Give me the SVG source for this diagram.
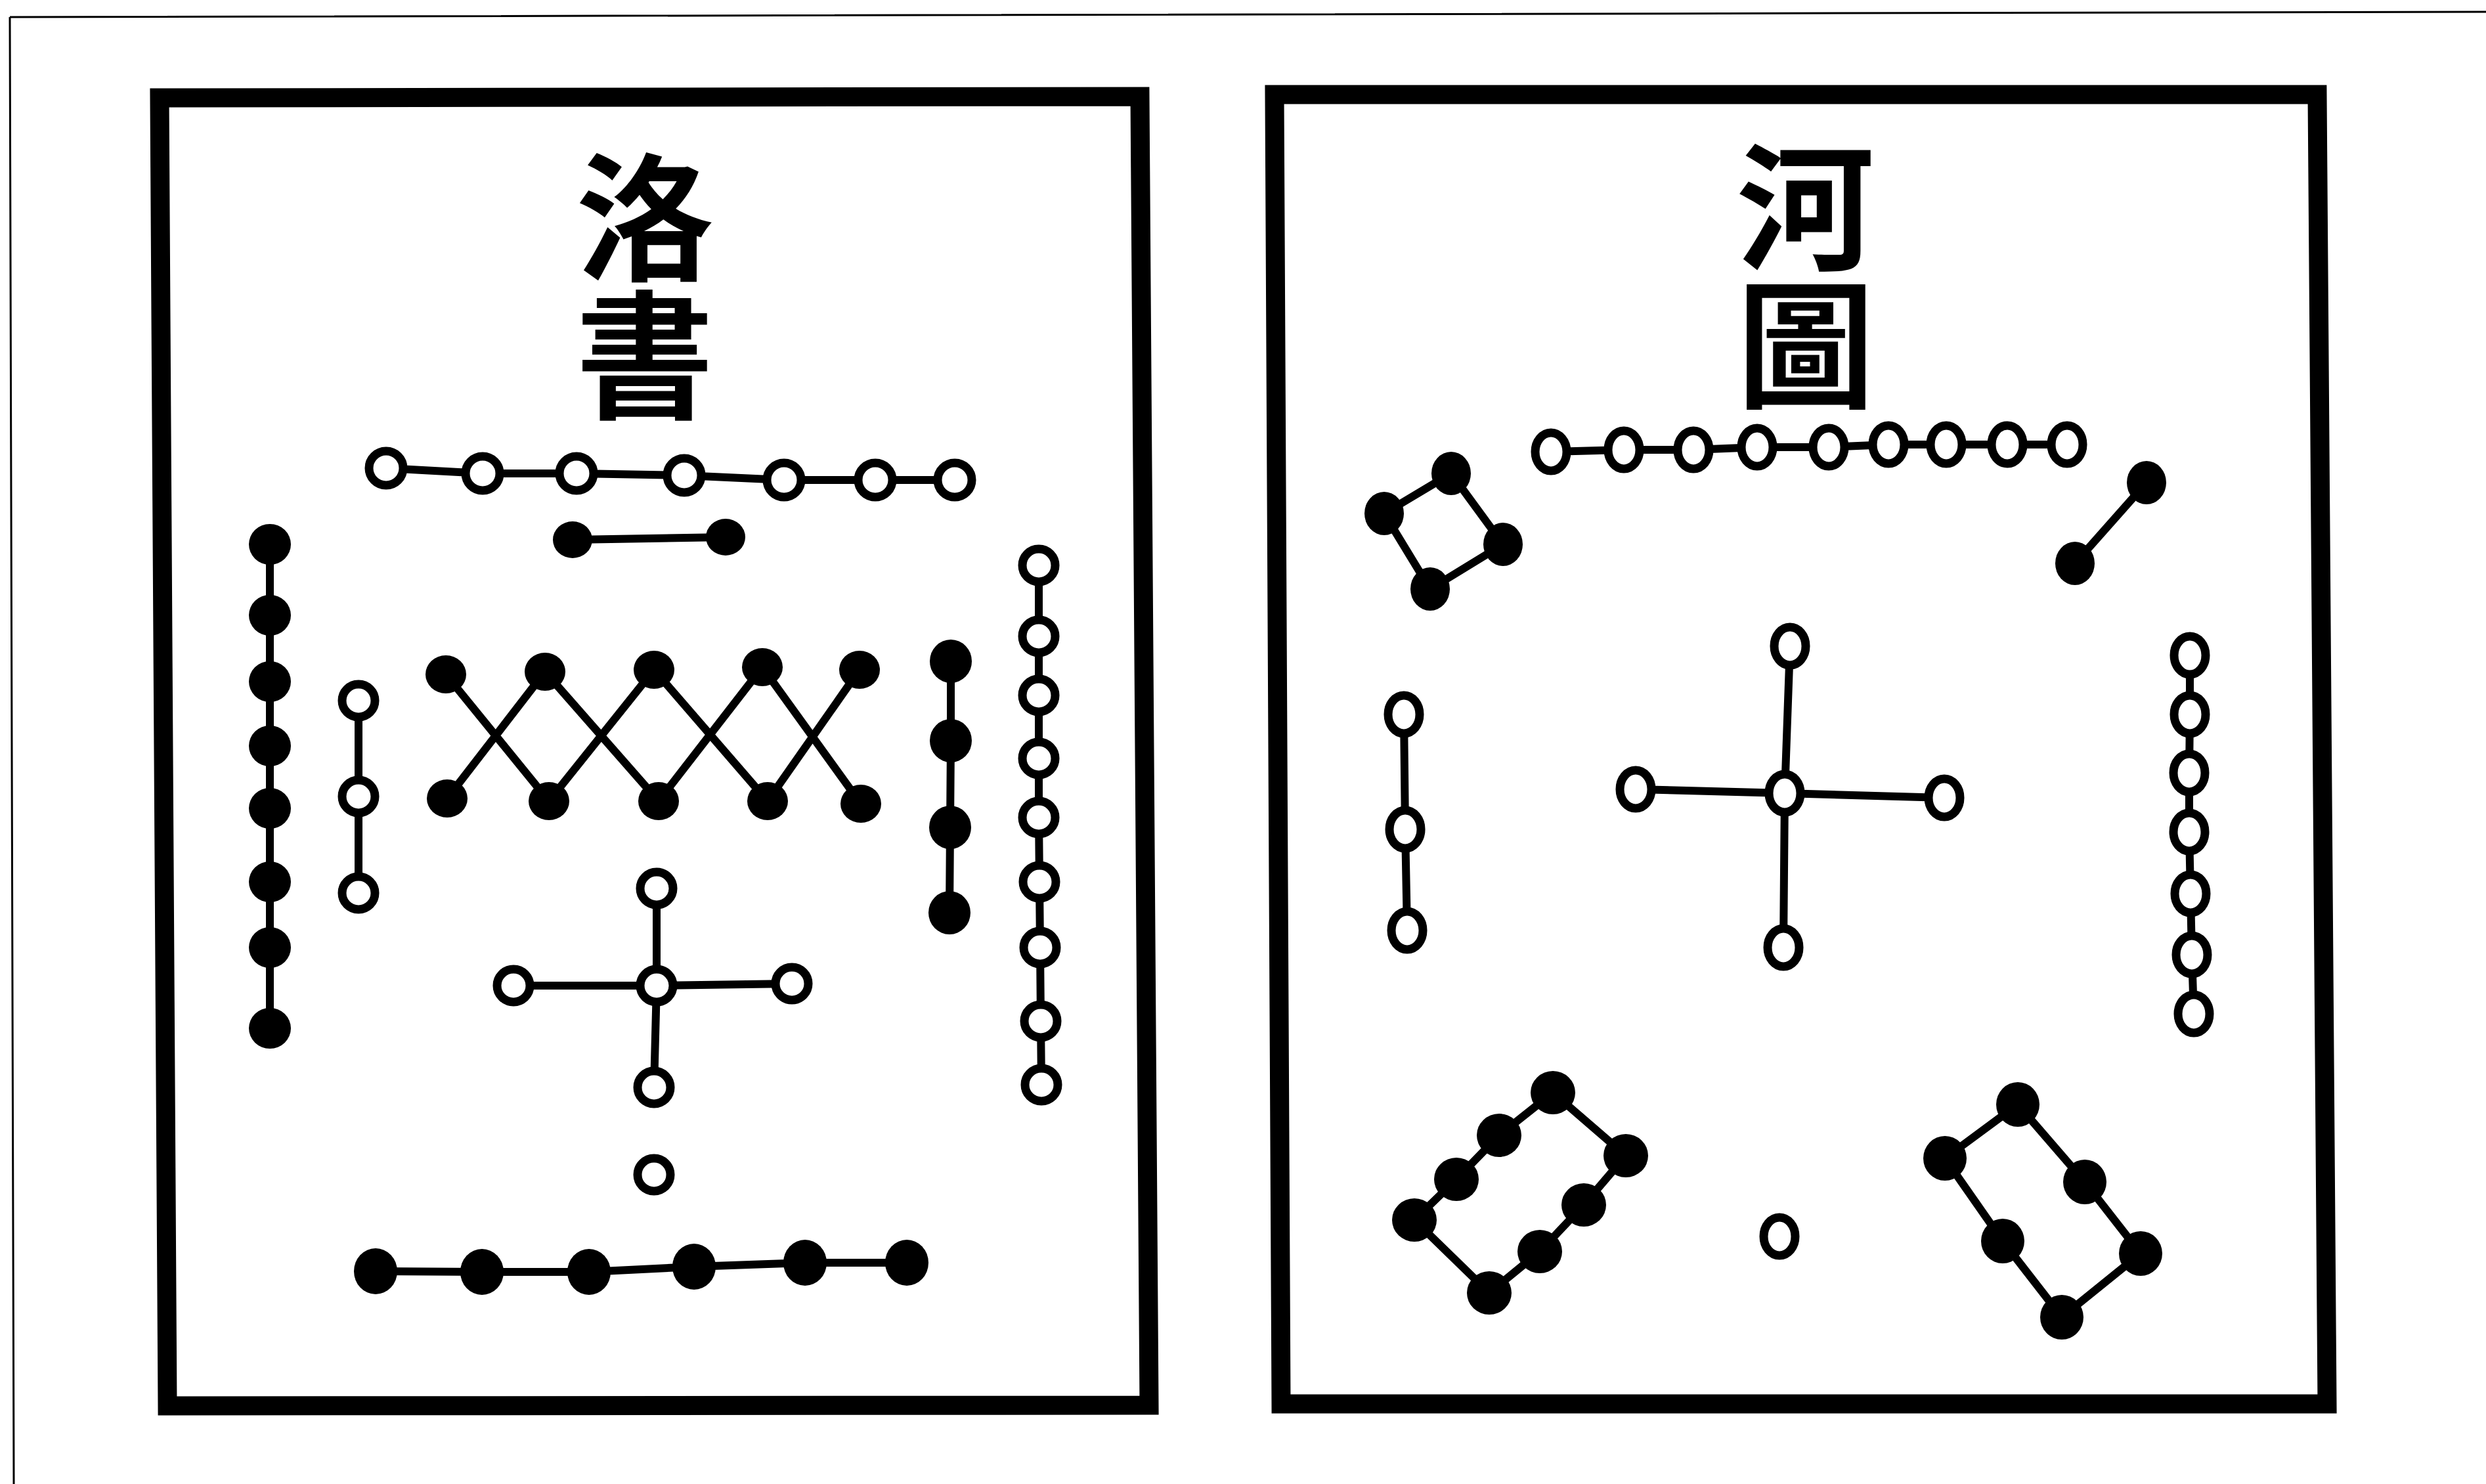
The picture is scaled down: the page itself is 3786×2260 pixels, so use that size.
<svg xmlns="http://www.w3.org/2000/svg" width="3786" height="2260" viewBox="0 0 3786 2260">
<style>
.o{fill:#fff;stroke:#000;stroke-width:13}
.f{fill:#000}
.ln{stroke:#000;stroke-width:12;stroke-linecap:round;fill:none}
.frame{fill:none;stroke:#000;stroke-width:29;stroke-linejoin:miter}
.thin{stroke:#000;stroke-width:3;fill:none}
.t{font-family:"Noto Sans CJK TC","Noto Sans CJK JP","Noto Sans CJK SC",sans-serif;font-weight:bold;font-size:210px;text-anchor:middle;fill:#000;writing-mode:vertical-rl;glyph-orientation-vertical:0}
</style>
<rect width="3786" height="2260" fill="#fff"/>
<g id="page-border">
<path class="thin" d="M15 26 L3786 18 M15 26 L21 2260"/>
</g>
<g id="frame-luoshu"><path class="frame" d="M243 149 L1736 147 L1750 2140 L255 2141 Z"/></g>
<g id="frame-hetu"><path class="frame" d="M1941 144 L3529 144 L3544 2138 L1951 2138 Z"/></g>
<g id="title-luoshu">
<text class="t" x="982" y="436">洛書</text>
</g>
<g id="title-hetu">
<text class="t" x="2750" y="420">河圖</text>
</g>
<g id="connectors">
<!-- Luoshu -->
<polyline class="ln" points="588,713 735,721 878,721 1042,724 1194,731 1333,731 1454,731"/>
<line class="ln" x1="872" y1="822" x2="1105" y2="818"/>
<polyline class="ln" points="411,829 411,937 411,1038 411,1136 411,1231 411,1343 411,1443 411,1566"/>
<polyline class="ln" points="546,1067 546,1213 546,1360"/>
<path class="ln" d="M679 1027 L836 1220 M681 1216 L830 1023 M830 1023 L1003 1220 M836 1220 L996 1020 M996 1020 L1169 1220 M1003 1220 L1161 1016 M1161 1016 L1311 1224 M1169 1220 L1309 1020"/>
<polyline class="ln" points="1448,1007 1448,1128 1447,1260 1446,1390"/>
<polyline class="ln" points="1582,861 1582,969 1582,1059 1582,1155 1582,1245 1583,1343 1584,1443 1585,1555 1586,1652"/>
<path class="ln" d="M1000 1353 L1000 1501 L996 1656 M782 1501 L1000 1501 L1206 1498"/>
<polyline class="ln" points="572,1936 734,1937 897,1937 1057,1929 1226,1923 1381,1923"/>
<!-- Hetu -->
<polyline class="ln" points="2362,688 2473,685 2579,685 2676,681 2785,681 2876,677 2964,677 3057,677 3148,677"/>
<path class="ln" d="M2210 721 L2108 782 L2178 897 L2289 829 Z"/>
<line class="ln" x1="3269" y1="735" x2="3160" y2="858"/>
<polyline class="ln" points="2138,1088 2140,1263 2143,1417"/>
<path class="ln" d="M2726 984 L2718 1208 L2716 1443 M2491 1202 L2718 1208 L2961 1215"/>
<polyline class="ln" points="3335,998 3335,1088 3334,1177 3334,1267 3336,1361 3338,1454 3341,1544"/>
<path class="ln" d="M2365 1664 L2283 1729 L2218 1796 L2154 1858 L2268 1969 L2345 1906 L2412 1835 L2476 1760 Z"/>
<path class="ln" d="M3073 1682 L2962 1764 L3050 1890 L3140 2006 L3260 1909 L3175 1800 Z"/>
</g>
<g id="luoshu-top-seven">
<circle class="o" cx="588" cy="713" r="26"/><circle class="o" cx="735" cy="721" r="26"/><circle class="o" cx="878" cy="721" r="26"/><circle class="o" cx="1042" cy="724" r="26"/><circle class="o" cx="1194" cy="731" r="26"/><circle class="o" cx="1333" cy="731" r="26"/><circle class="o" cx="1454" cy="731" r="26"/>
</g>
<g id="luoshu-two">
<ellipse class="f" cx="872" cy="822" rx="30" ry="28"/><ellipse class="f" cx="1105" cy="818" rx="30" ry="28"/>
</g>
<g id="luoshu-left-eight">
<ellipse class="f" cx="411" cy="829" rx="32" ry="31"/><ellipse class="f" cx="411" cy="937" rx="32" ry="31"/><ellipse class="f" cx="411" cy="1038" rx="32" ry="31"/><ellipse class="f" cx="411" cy="1136" rx="32" ry="31"/><ellipse class="f" cx="411" cy="1231" rx="32" ry="31"/><ellipse class="f" cx="411" cy="1343" rx="32" ry="31"/><ellipse class="f" cx="411" cy="1443" rx="32" ry="31"/><ellipse class="f" cx="411" cy="1566" rx="32" ry="31"/>
</g>
<g id="luoshu-left-three">
<circle class="o" cx="546" cy="1067" r="25"/><circle class="o" cx="546" cy="1213" r="25"/><circle class="o" cx="546" cy="1360" r="25"/>
</g>
<g id="luoshu-zigzag-ten">
<ellipse class="f" cx="679" cy="1027" rx="31" ry="29"/><ellipse class="f" cx="830" cy="1023" rx="31" ry="29"/><ellipse class="f" cx="996" cy="1020" rx="31" ry="29"/><ellipse class="f" cx="1161" cy="1016" rx="31" ry="29"/><ellipse class="f" cx="1309" cy="1020" rx="31" ry="29"/>
<ellipse class="f" cx="681" cy="1216" rx="31" ry="29"/><ellipse class="f" cx="836" cy="1220" rx="31" ry="29"/><ellipse class="f" cx="1003" cy="1220" rx="31" ry="29"/><ellipse class="f" cx="1169" cy="1220" rx="31" ry="29"/><ellipse class="f" cx="1311" cy="1224" rx="31" ry="29"/>
</g>
<g id="luoshu-right-four">
<ellipse class="f" cx="1448" cy="1007" rx="32" ry="33"/><ellipse class="f" cx="1448" cy="1128" rx="32" ry="33"/><ellipse class="f" cx="1447" cy="1260" rx="32" ry="33"/><ellipse class="f" cx="1446" cy="1390" rx="32" ry="33"/>
</g>
<g id="luoshu-right-nine">
<circle class="o" cx="1582" cy="861" r="25"/><circle class="o" cx="1582" cy="969" r="25"/><circle class="o" cx="1582" cy="1059" r="25"/><circle class="o" cx="1582" cy="1155" r="25"/><circle class="o" cx="1582" cy="1245" r="25"/><circle class="o" cx="1583" cy="1343" r="25"/><circle class="o" cx="1584" cy="1443" r="25"/><circle class="o" cx="1585" cy="1555" r="25"/><circle class="o" cx="1586" cy="1652" r="25"/>
</g>
<g id="luoshu-center-five">
<circle class="o" cx="1000" cy="1353" r="25"/><circle class="o" cx="1000" cy="1501" r="25"/><circle class="o" cx="996" cy="1656" r="25"/><circle class="o" cx="782" cy="1501" r="25"/><circle class="o" cx="1206" cy="1498" r="25"/>
</g>
<g id="luoshu-one">
<circle class="o" cx="996" cy="1789" r="25"/>
</g>
<g id="luoshu-bottom-six">
<ellipse class="f" cx="572" cy="1936" rx="33" ry="35"/><ellipse class="f" cx="734" cy="1937" rx="33" ry="35"/><ellipse class="f" cx="897" cy="1937" rx="33" ry="35"/><ellipse class="f" cx="1057" cy="1929" rx="33" ry="35"/><ellipse class="f" cx="1226" cy="1923" rx="33" ry="35"/><ellipse class="f" cx="1381" cy="1923" rx="33" ry="35"/>
</g>
<g id="hetu-top-nine">
<ellipse class="o" cx="2362" cy="688" rx="24" ry="29"/><ellipse class="o" cx="2473" cy="685" rx="24" ry="29"/><ellipse class="o" cx="2579" cy="685" rx="24" ry="29"/><ellipse class="o" cx="2676" cy="681" rx="24" ry="29"/><ellipse class="o" cx="2785" cy="681" rx="24" ry="29"/><ellipse class="o" cx="2876" cy="677" rx="24" ry="29"/><ellipse class="o" cx="2964" cy="677" rx="24" ry="29"/><ellipse class="o" cx="3057" cy="677" rx="24" ry="29"/><ellipse class="o" cx="3148" cy="677" rx="24" ry="29"/>
</g>
<g id="hetu-topleft-four">
<ellipse class="f" cx="2210" cy="721" rx="30" ry="33"/><ellipse class="f" cx="2108" cy="782" rx="30" ry="33"/><ellipse class="f" cx="2289" cy="829" rx="30" ry="33"/><ellipse class="f" cx="2178" cy="897" rx="30" ry="33"/>
</g>
<g id="hetu-topright-two">
<ellipse class="f" cx="3269" cy="735" rx="30" ry="33"/><ellipse class="f" cx="3160" cy="858" rx="30" ry="33"/>
</g>
<g id="hetu-left-three">
<ellipse class="o" cx="2138" cy="1088" rx="24" ry="29"/><ellipse class="o" cx="2140" cy="1263" rx="24" ry="29"/><ellipse class="o" cx="2143" cy="1417" rx="24" ry="29"/>
</g>
<g id="hetu-center-five">
<ellipse class="o" cx="2726" cy="984" rx="24" ry="29"/><ellipse class="o" cx="2718" cy="1208" rx="24" ry="29"/><ellipse class="o" cx="2491" cy="1202" rx="24" ry="29"/><ellipse class="o" cx="2961" cy="1215" rx="24" ry="29"/><ellipse class="o" cx="2716" cy="1443" rx="24" ry="29"/>
</g>
<g id="hetu-right-seven">
<ellipse class="o" cx="3335" cy="998" rx="24" ry="29"/><ellipse class="o" cx="3335" cy="1088" rx="24" ry="29"/><ellipse class="o" cx="3334" cy="1177" rx="24" ry="29"/><ellipse class="o" cx="3334" cy="1267" rx="24" ry="29"/><ellipse class="o" cx="3336" cy="1361" rx="24" ry="29"/><ellipse class="o" cx="3338" cy="1454" rx="24" ry="29"/><ellipse class="o" cx="3341" cy="1544" rx="24" ry="29"/>
</g>
<g id="hetu-bottomleft-eight">
<ellipse class="f" cx="2365" cy="1664" rx="34" ry="33"/><ellipse class="f" cx="2283" cy="1729" rx="34" ry="33"/><ellipse class="f" cx="2218" cy="1796" rx="34" ry="33"/><ellipse class="f" cx="2154" cy="1858" rx="34" ry="33"/><ellipse class="f" cx="2268" cy="1969" rx="34" ry="33"/><ellipse class="f" cx="2345" cy="1906" rx="34" ry="33"/><ellipse class="f" cx="2412" cy="1835" rx="34" ry="33"/><ellipse class="f" cx="2476" cy="1760" rx="34" ry="33"/>
</g>
<g id="hetu-bottomright-six">
<ellipse class="f" cx="3073" cy="1682" rx="33" ry="34"/><ellipse class="f" cx="2962" cy="1764" rx="33" ry="34"/><ellipse class="f" cx="3175" cy="1800" rx="33" ry="34"/><ellipse class="f" cx="3050" cy="1890" rx="33" ry="34"/><ellipse class="f" cx="3260" cy="1909" rx="33" ry="34"/><ellipse class="f" cx="3140" cy="2006" rx="33" ry="34"/>
</g>
<g id="hetu-one">
<ellipse class="o" cx="2710" cy="1883" rx="24" ry="29"/>
</g>
</svg>
